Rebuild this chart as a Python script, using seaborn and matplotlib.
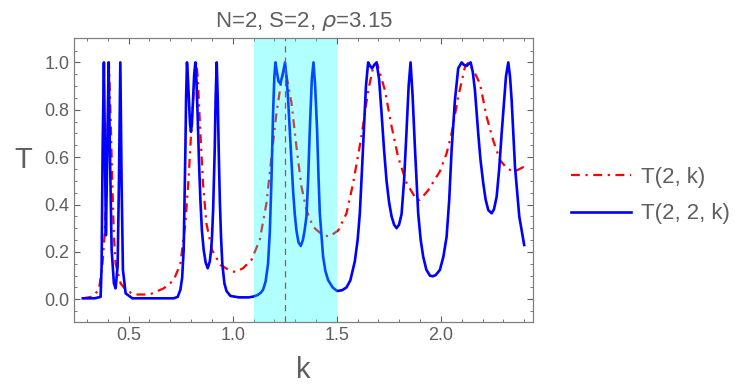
import numpy as np
import pandas as pd
import matplotlib
matplotlib.use('Agg')
import matplotlib.pyplot as plt
import seaborn as sns

# values
k_blue = [0.28, 0.3365, 0.3654, 0.3702, 0.375, 0.3813, 0.386, 0.3909, 0.3976, 0.4038,
          0.4101, 0.4183, 0.4293, 0.4375, 0.4471, 0.4534, 0.4601, 0.4663, 0.4726, 0.4856,
          0.5178, 0.7163, 0.7356, 0.7486, 0.757, 0.7644, 0.7726, 0.776, 0.7803, 0.785,
          0.7899, 0.795, 0.7995, 0.804, 0.8091, 0.815, 0.8207, 0.826, 0.8317, 0.838,
          0.8447, 0.852, 0.8606, 0.87, 0.8798, 0.89, 0.8965, 0.9005, 0.906, 0.9135,
          0.918, 0.9231, 0.928, 0.9327, 0.938, 0.9438, 0.95, 0.9601, 0.97, 0.9889,
          1.03, 1.0769, 1.0976, 1.12, 1.135, 1.1457, 1.158, 1.1697, 1.178, 1.186,
          1.1938, 1.2, 1.2053, 1.212, 1.22, 1.2293, 1.24, 1.2514, 1.26, 1.267,
          1.274, 1.2899, 1.298, 1.3062, 1.316, 1.3269, 1.337, 1.3453, 1.3543, 1.362,
          1.3702, 1.38, 1.388, 1.396, 1.4053, 1.412, 1.4183, 1.4341, 1.445, 1.4582,
          1.48, 1.5014, 1.525, 1.5466, 1.565, 1.5865, 1.6, 1.6106, 1.62, 1.6298,
          1.64, 1.6505, 1.66, 1.6697, 1.68, 1.6909, 1.703, 1.715, 1.727, 1.7389,
          1.751, 1.763, 1.775, 1.787, 1.799, 1.8111, 1.823, 1.8351, 1.845, 1.8543,
          1.864, 1.875, 1.8909, 1.903, 1.9149, 1.93, 1.9471, 1.96, 1.975, 1.9952,
          2.012, 2.0274, 2.04, 2.0514, 2.0673, 2.0832, 2.0995, 2.11, 2.1236, 2.135,
          2.1428, 2.153, 2.1635, 2.1793, 2.19, 2.2034, 2.215, 2.2274, 2.2438, 2.255,
          2.2678, 2.28, 2.2918, 2.3125, 2.3236, 2.332, 2.3399, 2.3558, 2.3764, 2.39,
          2.4]
T_blue = [0.004, 0.004, 0.01, 0.14, 0.63, 1.0, 0.63, 0.27, 0.63, 1.0,
          0.63, 0.21, 0.067, 0.046, 0.14, 0.49, 1.0, 0.49, 0.124, 0.025,
          0.004, 0.004, 0.01, 0.04, 0.09, 0.208, 0.63, 0.85, 1.0, 0.93,
          0.84, 0.74, 0.707, 0.74, 0.84, 0.95, 1.0, 0.92, 0.77, 0.58,
          0.42, 0.29, 0.208, 0.155, 0.131, 0.16, 0.21, 0.264, 0.38, 0.63,
          0.85, 1.0, 0.85, 0.63, 0.42, 0.264, 0.15, 0.067, 0.035, 0.014,
          0.008, 0.008, 0.011, 0.018, 0.028, 0.04, 0.075, 0.15, 0.28, 0.50,
          0.785, 0.94, 1.0, 0.96, 0.92, 0.91, 0.95, 1.0, 0.92, 0.83,
          0.714, 0.46, 0.36, 0.29, 0.24, 0.225, 0.25, 0.29, 0.35, 0.5,
          0.714, 0.93, 1.0, 0.9, 0.714, 0.52, 0.363, 0.18, 0.12, 0.081,
          0.05, 0.035, 0.038, 0.05, 0.08, 0.16, 0.25, 0.363, 0.53, 0.714,
          0.9, 1.0, 0.985, 0.975, 0.99, 1.0, 0.93, 0.785, 0.63, 0.50,
          0.41, 0.35, 0.315, 0.30, 0.315, 0.36, 0.5, 0.714, 0.9, 1.0,
          0.86, 0.644, 0.363, 0.25, 0.18, 0.125, 0.10, 0.097, 0.102, 0.124,
          0.18, 0.264, 0.42, 0.63, 0.84, 0.975, 1.0, 0.99, 0.985, 0.995,
          1.0, 0.96, 0.883, 0.70, 0.59, 0.49, 0.42, 0.377, 0.363, 0.38,
          0.433, 0.55, 0.70, 0.94, 1.0, 0.94, 0.84, 0.56, 0.35, 0.28,
          0.229]

k_red = [0.28, 0.3255, 0.3572, 0.3736, 0.3861, 0.3942, 0.4005, 0.4053, 0.4135, 0.4216,
         0.4293, 0.4375, 0.4615, 0.4856, 0.5255, 0.601, 0.6683, 0.7163, 0.7486, 0.7726,
         0.7885, 0.8043, 0.8207, 0.8255, 0.8317, 0.8447, 0.8572, 0.8736, 0.9005, 0.9409,
         0.9889, 1.013, 1.0495, 1.0899, 1.1298, 1.162, 1.186, 1.2101, 1.2341, 1.2500,
         1.2822, 1.3062, 1.3303, 1.3543, 1.386, 1.4264, 1.463, 1.5063, 1.5466, 1.5784,
         1.6188, 1.6505, 1.6745, 1.6923, 1.7308, 1.763, 1.7947, 1.8351, 1.8832, 1.899,
         1.9389, 1.9952, 2.0274, 2.0514, 2.0832, 2.1154, 2.1313, 2.1635, 2.1875, 2.2197,
         2.2514, 2.2837, 2.3159, 2.351, 2.4]
T_red = [0.004, 0.011, 0.04, 0.14, 0.29, 0.49, 0.77, 1.0, 0.77, 0.49,
         0.264, 0.15, 0.067, 0.04, 0.02, 0.02, 0.046, 0.08, 0.15, 0.32,
         0.517, 0.77, 0.98, 1.0, 0.94, 0.70, 0.49, 0.32, 0.208, 0.145,
         0.12, 0.115, 0.131, 0.166, 0.25, 0.405, 0.60, 0.785, 0.925, 0.985,
         0.83, 0.644, 0.475, 0.377, 0.306, 0.275, 0.264, 0.29, 0.363, 0.49,
         0.69, 0.88, 0.98, 1.0, 0.883, 0.73, 0.60, 0.49, 0.42, 0.42,
         0.46, 0.54, 0.616, 0.70, 0.855, 0.98, 1.0, 0.954, 0.91, 0.77,
         0.67, 0.588, 0.553, 0.538, 0.56]

band = (1.1, 1.5)
k_mark = 1.25
labels = ['T(2, k)', 'T(2, 2, k)']

gray = '#5f5f5f'
plt.rcParams['font.family'] = ['Liberation Sans', 'DejaVu Sans']

df_red = pd.DataFrame({'k': k_red, 'T': T_red})
df_blue = pd.DataFrame({'k': k_blue, 'T': T_blue})

fig = plt.figure(figsize=(7.36, 3.92), dpi=100)
ax = fig.add_axes([74/736, 1 - 322/392, 459/736, 284/392])

sns.lineplot(data=df_red, x='k', y='T', ax=ax, color='#ff0000', lw=1.6,
             sort=False, estimator=None, label=labels[0])
ax.lines[-1].set_dashes([4, 2.5, 1, 2.5])
sns.lineplot(data=df_blue, x='k', y='T', ax=ax, color='#0000ff', lw=1.9,
             sort=False, estimator=None, label=labels[1])

# marker line and shaded window drawn over the curves
ax.axvline(k_mark, color='#ff0000', lw=0.9, ls=(0, (5, 4)), zorder=3)
ax.axvspan(band[0], band[1], color='#00ffff', alpha=0.3, lw=0, zorder=4)

ax.set_xlim(0.2376, 2.4424)
ax.set_ylim(-0.096, 1.103)
ax.set_xticks([0.5, 1.0, 1.5, 2.0])
ax.set_xticks(np.arange(0.3, 2.45, 0.1), minor=True)
ax.set_yticks([0.0, 0.2, 0.4, 0.6, 0.8, 1.0])
ax.set_yticks(np.arange(-0.05, 1.1, 0.05), minor=True)
ax.xaxis.set_major_formatter(matplotlib.ticker.FormatStrFormatter('%.1f'))
ax.yaxis.set_major_formatter(matplotlib.ticker.FormatStrFormatter('%.1f'))
ax.tick_params(which='both', direction='in', top=True, right=True, color=gray,
               labelcolor=gray, labelsize=13, zorder=6)
ax.tick_params(which='major', length=4, width=0.8)
ax.tick_params(which='minor', length=2.2, width=0.6)
for s in ax.spines.values():
    s.set_color('#808080')
    s.set_linewidth(0.9)
    s.set_zorder(6)

ax.set_xlabel('k', fontsize=21, color=gray, labelpad=9)
ax.set_ylabel('T', fontsize=21, color=gray, rotation=0, va='center', ha='center')
ax.yaxis.set_label_coords(-0.11, 0.57)
ax.set_title('N=2, S=2, $\\rho$=3.15', fontsize=16, color=gray, pad=8)

leg = ax.legend(loc='center left', bbox_to_anchor=(1.04, 0.445), frameon=False,
                fontsize=16, handlelength=2.7, handletextpad=0.45, labelspacing=0.7)
for t in leg.get_texts():
    t.set_color(gray)

fig.savefig('out.png', dpi=100)
